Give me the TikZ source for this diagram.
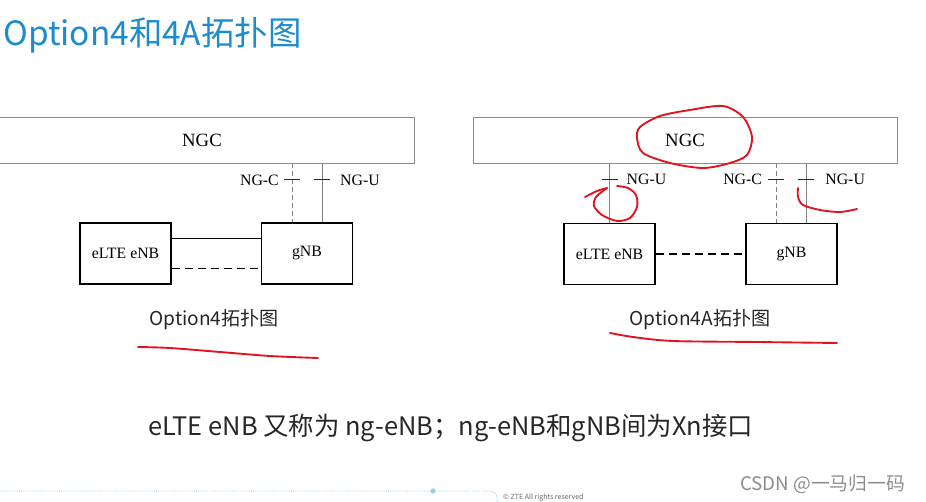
\documentclass[tikz,border=0pt]{standalone}
\usepackage{fontspec}
\setmainfont{Liberation Serif}
\newfontfamily\cjk{Noto Sans CJK SC}
\usepackage{tikz}
\usetikzlibrary{positioning, calc}
\definecolor{ztblue}{HTML}{1C8CCF}
\definecolor{penred}{HTML}{E0141E}
\definecolor{dotblue}{HTML}{9ACFE8}
\tikzset{
  corebox/.style={rectangle, draw=black!45, line width=0.8pt,
                  minimum width=127.2mm, minimum height=13.8mm,
                  font=\fontsize{16}{18}\selectfont},
  basebox/.style={rectangle, draw=black, line width=1.2pt,
                  minimum width=27.3mm, minimum height=18.3mm,
                  font=\fontsize{13.5}{16}\selectfont},
  ifline/.style={draw=black!50, line width=0.7pt},
  ifdash/.style={ifline, dash pattern=on 1.5mm off 0.9mm},
  iftick/.style={draw=black!85, line width=0.8pt},
  xnline/.style={draw=black, line width=0.9pt},
  xndash/.style={xnline, dash pattern=on 2.4mm off 1.5mm},
  iflabel/.style={font=\fontsize{13.5}{16}\selectfont, inner sep=0pt},
  hand/.style={draw=penred, line width=1.6pt, line cap=round, line join=round},
  slide/.style={inner sep=0pt, text=black!85},
}

\begin{document}
\begin{tikzpicture}[x=0.3mm, y=-0.3mm]
  \useasboundingbox (0,0) rectangle (926,502);
  \clip (0,0) rectangle (926,502);

  % title
  \node[slide, anchor=west, text=ztblue, font=\cjk\fontsize{28.5}{32}\selectfont]
    (title) at (3,35) {Option4和4A拓扑图};

  % Option 4
  \node[corebox] (ngcL) at (202,140) {NGC};
  \node[basebox] (enbL) at (125.5,253.5) {eLTE eNB};
  \node[basebox] (gnbL) at (307,253.5) {gNB};
  \coordinate (cL) at ([xshift=-4.5mm]gnbL.north);
  \coordinate (uL) at ([xshift=4.5mm]gnbL.north);
  \draw[ifdash] (cL |- ngcL.south) -- (cL);
  \draw[ifline] (uL |- ngcL.south) -- (uL);
  \coordinate (tcL) at ($(cL |- ngcL.south)!0.28!(cL)$);
  \coordinate (tuL) at ($(uL |- ngcL.south)!0.28!(uL)$);
  \draw[iftick] (tcL) +(-8,0) -- +(8,0);
  \draw[iftick] (tuL) +(-8,0) -- +(8,0);
  \node[iflabel, left=3.9mm of tcL] (lcL) {NG-C};
  \node[iflabel, right=5.4mm of tuL] (luL) {NG-U};
  \draw[xnline] ([yshift=4.4mm]enbL.east) -- ([yshift=4.4mm]gnbL.west);
  \draw[xndash] ([yshift=-4.6mm]enbL.east) -- ([yshift=-4.6mm]gnbL.west);
  \node[slide, font=\cjk\fontsize{16.3}{19}\selectfont] (capL) at (214,320) {Option4拓扑图};

  % Option 4A
  \node[corebox] (ngcR) at (685,140) {NGC};
  \node[basebox] (enbR) at (609.5,254) {eLTE eNB};
  \node[basebox] (gnbR) at (791.5,254) {gNB};
  \coordinate (eR) at (enbR.north);
  \coordinate (cR) at ([xshift=-4.6mm]gnbR.north);
  \coordinate (uR) at ([xshift=4.4mm]gnbR.north);
  \draw[ifline] (eR |- ngcR.south) -- (eR);
  \draw[ifdash] (cR |- ngcR.south) -- (cR);
  \draw[ifline] (uR |- ngcR.south) -- (uR);
  \coordinate (teR) at ($(eR |- ngcR.south)!0.27!(eR)$);
  \coordinate (tcR) at ($(cR |- ngcR.south)!0.27!(cR)$);
  \coordinate (tuR) at ($(uR |- ngcR.south)!0.27!(uR)$);
  \draw[iftick] (teR) +(-8,0) -- +(8,0);
  \draw[iftick] (tcR) +(-8,0) -- +(8,0);
  \draw[iftick] (tuR) +(-8,0) -- +(8,0);
  \node[iflabel, right=5.1mm of teR] (leR) {NG-U};
  \node[iflabel, left=4.2mm of tcR] (lcR) {NG-C};
  \node[iflabel, right=5.7mm of tuR] (luR) {NG-U};
  \draw[xndash] (enbR.east) -- (gnbR.west);
  \node[slide, font=\cjk\fontsize{16.3}{19}\selectfont] (capR) at (700,320) {Option4A拓扑图};

  % pen marks
  \draw[hand] plot[smooth cycle] coordinates {(723,106) (743,117) (752,137) (747,155)
    (730,163) (703,168) (670,163) (643,153) (637,138) (640,127) (660,116) (690,110)};
  \draw[hand] plot[smooth] coordinates {(585,197) (597,191) (607,188)};
  \draw[hand] plot[smooth] coordinates {(607,188) (596,197) (594,206) (602,215)
    (617,221) (630,218) (637,207) (636,195) (628,188) (617,186)};
  \draw[hand] plot[smooth] coordinates {(798,188) (798,197) (803,205) (820,210)
    (840,212) (857,209)};
  \draw[hand] plot[smooth] coordinates {(138,347) (170,348) (220,352) (270,356) (318,358)};
  \draw[hand] plot[smooth] coordinates {(610,333) (633,337) (673,341) (757,342) (837,343)};

  % note
  \node[slide, anchor=west, font=\cjk\fontsize{21.7}{26}\selectfont] (note) at (148,428)
    {eLTE eNB 又称为 ng-eNB；ng-eNB和gNB间为Xn接口};

  % footer
  \draw[dotblue, densely dotted, line width=0.8pt, rounded corners=2mm]
    (0,491) -- (497,491) -- (497,512);
  \fill[dotblue] (433,491) circle (0.8mm);
  \node[anchor=south west, inner sep=0pt, text=black!60, font=\cjk\fontsize{6}{7}\selectfont]
    (copy) at (503,501) {© ZTE All rights reserved};
  \node[anchor=west, inner sep=0pt, text=black!45, font=\cjk\fontsize{16}{18}\selectfont]
    (wm) at (740,484) {CSDN @一马归一码};
\end{tikzpicture}
\end{document}
